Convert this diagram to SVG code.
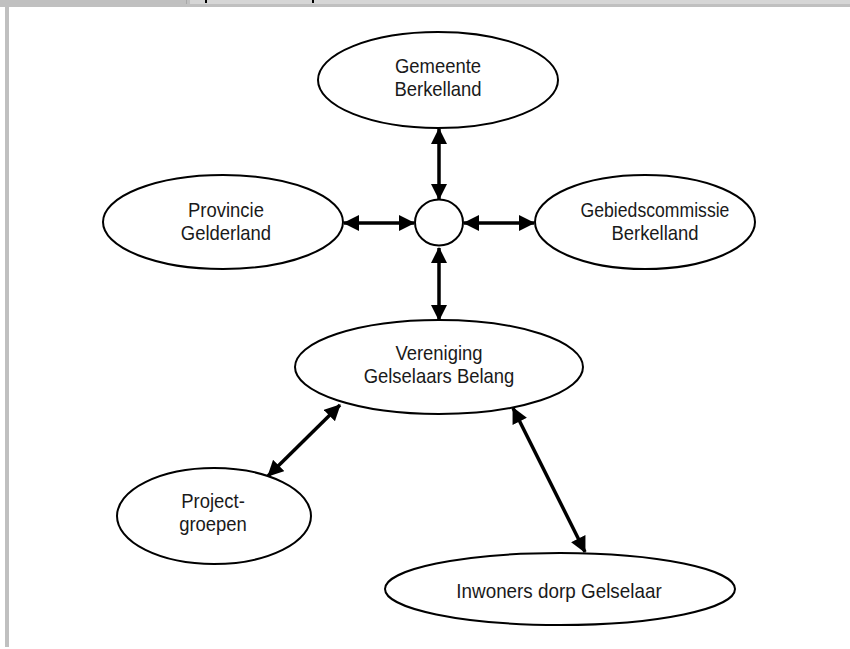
<svg xmlns="http://www.w3.org/2000/svg" width="850" height="649" viewBox="0 0 850 649">
<style>
.node ellipse{fill:#fff;stroke:#000;stroke-width:2}
.node text{font-family:"Liberation Sans",Arial,sans-serif;font-size:20.5px;fill:#1a1a1a;text-anchor:middle}
.conn line{stroke:#000;stroke-width:3.5;marker-start:url(#ah);marker-end:url(#ah)}
</style>
<defs>
<marker id="ah" markerUnits="userSpaceOnUse" markerWidth="16" markerHeight="16" refX="15" refY="8" orient="auto-start-reverse" viewBox="0 0 16 16">
<path d="M0,0 L16,8 L0,16 Z" fill="#000"/>
</marker>
</defs>
<rect width="850" height="649" fill="#fff"/>
<g id="frame">
<rect x="0" y="0" width="850" height="7" fill="#c0c0c0"/>
<rect x="190" y="0" width="660" height="4" fill="#d6d6d6"/>
<rect x="186" y="0" width="1" height="4" fill="#a8a8a8"/>
<rect x="5" y="7" width="4" height="640" fill="#c0c0c0"/>
<rect x="205" y="0" width="2" height="3" fill="#000"/>
<rect x="312" y="0" width="2" height="3" fill="#000"/>
</g>
<g class="conn" id="connectors">
<line x1="439" y1="129" x2="439" y2="199"/>
<line x1="344" y1="223" x2="414" y2="223"/>
<line x1="464" y1="223" x2="534" y2="223"/>
<line x1="439" y1="248" x2="439" y2="320"/>
<line x1="340" y1="405" x2="268" y2="476"/>
<line x1="513" y1="408" x2="585" y2="552"/>
</g>
<g class="node" id="gemeente">
<ellipse cx="438" cy="80" rx="120" ry="48"/>
<text transform="translate(438,73) scale(0.9,1)">Gemeente</text>
<text transform="translate(438,96) scale(0.9,1)">Berkelland</text>
</g>
<g class="node" id="hub">
<ellipse cx="439" cy="222.5" rx="24" ry="23"/>
</g>
<g class="node" id="provincie">
<ellipse cx="223" cy="222" rx="120" ry="47"/>
<text transform="translate(226,217) scale(0.9,1)">Provincie</text>
<text transform="translate(226,240) scale(0.9,1)">Gelderland</text>
</g>
<g class="node" id="gebiedscommissie">
<ellipse cx="645" cy="222" rx="110" ry="47"/>
<text transform="translate(655,217) scale(0.86,1)">Gebiedscommissie</text>
<text transform="translate(655,240) scale(0.9,1)">Berkelland</text>
</g>
<g class="node" id="vereniging">
<ellipse cx="439" cy="367" rx="144" ry="47"/>
<text transform="translate(439,360) scale(0.9,1)">Vereniging</text>
<text transform="translate(439,383) scale(0.9,1)">Gelselaars Belang</text>
</g>
<g class="node" id="projectgroepen">
<ellipse cx="214" cy="516" rx="97" ry="48"/>
<text transform="translate(213,508) scale(0.9,1)">Project-</text>
<text transform="translate(213,531) scale(0.9,1)">groepen</text>
</g>
<g class="node" id="inwoners">
<ellipse cx="560" cy="589" rx="175" ry="36"/>
<text transform="translate(559,598) scale(0.92,1)">Inwoners dorp Gelselaar</text>
</g>
</svg>
